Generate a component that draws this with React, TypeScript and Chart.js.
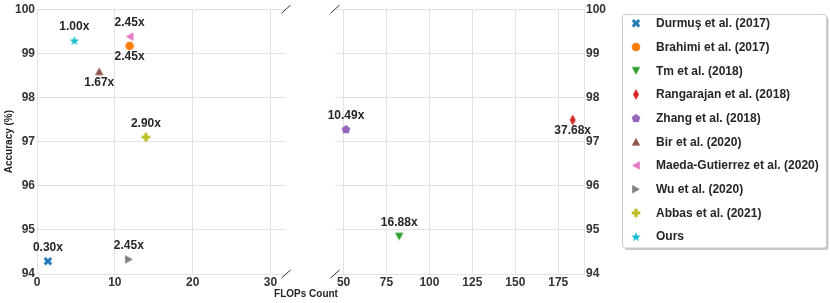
import React, { useEffect, useRef } from "react";
import { Chart, registerables } from "chart.js";

Chart.register(...registerables);

const methods = [
  "Durmuş et al. (2017)",
  "Brahimi et al. (2017)",
  "Tm et al. (2018)",
  "Rangarajan et al. (2018)",
  "Zhang et al. (2018)",
  "Bir et al. (2020)",
  "Maeda-Gutierrez et al. (2020)",
  "Wu et al. (2020)",
  "Abbas et al. (2021)",
  "Ours",
];
const flops = [1.4, 11.9, 82.4, 183.4, 51.4, 8.0, 11.9, 11.8, 14.0, 4.8];
const accuracy = [94.29, 99.17, 94.85, 97.49, 97.28, 98.59, 99.38, 94.33, 97.1, 99.29];
const speedLabels = ["0.30x", "2.45x", "16.88x", "37.68x", "10.49x", "1.67x", "2.45x", "2.45x", "2.90x", "1.00x"];
const labelBelow = [false, true, false, true, false, true, false, false, false, false];
const colors = ["#1f77b4", "#ff7f0e", "#2ca02c", "#d62728", "#9467bd", "#8c564b", "#e377c2", "#7f7f7f", "#bcbd22", "#17becf"];
const markerShapes = ["X", "circle", "triDown", "thinDiamond", "pentagon", "triUp", "triLeft", "triRight", "plus", "star"];
const leftXTicks = [0, 10, 20, 30];
const rightXTicks = [50, 75, 100, 125, 150, 175];
const yTicks = [94, 95, 96, 97, 98, 99, 100];
const leftRange = [0, 32];
const rightRange = [45, 190];
const yRange = [94, 100];

const FONT = "'Liberation Sans', Arial, sans-serif";
const GRID = "#e3e3e3";
const TICK = "#333333";
const TEXT = "#262626";

function plusPts(a: number, e: number): number[][] {
  return [[-a, -e], [a, -e], [a, -a], [e, -a], [e, a], [a, a], [a, e], [-a, e], [-a, a], [-e, a], [-e, -a], [-a, -a]];
}

function makeMarker(shape: string, color: string): HTMLCanvasElement {
  const s = 16;
  const c = document.createElement("canvas");
  c.width = s;
  c.height = s;
  const ctx = c.getContext("2d")!;
  ctx.fillStyle = color;
  ctx.translate(s / 2, s / 2);
  const poly = (pts: number[][]) => {
    ctx.beginPath();
    pts.forEach((p, i) => (i === 0 ? ctx.moveTo(p[0], p[1]) : ctx.lineTo(p[0], p[1])));
    ctx.closePath();
    ctx.fill();
  };
  switch (shape) {
    case "circle":
      ctx.beginPath();
      ctx.arc(0, 0, 4.3, 0, Math.PI * 2);
      ctx.fill();
      break;
    case "X": {
      const r = Math.PI / 4;
      poly(plusPts(1.5, 4.6).map(([x, y]) => [x * Math.cos(r) - y * Math.sin(r), x * Math.sin(r) + y * Math.cos(r)]));
      break;
    }
    case "plus":
      poly(plusPts(1.6, 4.3));
      break;
    case "triUp":
      poly([[0, -4], [4.2, 3.8], [-4.2, 3.8]]);
      break;
    case "triDown":
      poly([[0, 4], [4.2, -3.8], [-4.2, -3.8]]);
      break;
    case "triLeft":
      poly([[-4, 0], [3.8, -4.2], [3.8, 4.2]]);
      break;
    case "triRight":
      poly([[4, 0], [-3.8, -4.2], [-3.8, 4.2]]);
      break;
    case "thinDiamond":
      poly([[0, -5.5], [3, 0], [0, 5.5], [-3, 0]]);
      break;
    case "pentagon": {
      const pts: number[][] = [];
      for (let k = 0; k < 5; k++) {
        const a = -Math.PI / 2 + (k * 2 * Math.PI) / 5;
        pts.push([4.6 * Math.cos(a), 4.6 * Math.sin(a) + 0.4]);
      }
      poly(pts);
      break;
    }
    case "star": {
      const pts: number[][] = [];
      for (let k = 0; k < 10; k++) {
        const a = -Math.PI / 2 + (k * Math.PI) / 5;
        const rr = k % 2 === 0 ? 5 : 2.1;
        pts.push([rr * Math.cos(a), rr * Math.sin(a) + 0.5]);
      }
      poly(pts);
      break;
    }
  }
  return c;
}

function tickFont() {
  return { family: FONT, size: 12, weight: "bold" as const };
}

function buildDatasets(markers: HTMLCanvasElement[], inRange: (x: number) => boolean) {
  return methods.map((m, i) => ({
    label: m,
    data: inRange(flops[i]) ? [{ x: flops[i], y: accuracy[i] }] : [],
    pointStyle: markers[i],
    pointRadius: 5,
    backgroundColor: colors[i],
    borderColor: colors[i],
  }));
}

const labelPlugin = {
  id: "speedLabels",
  afterDatasetsDraw(chart: any) {
    const ctx = chart.ctx;
    ctx.save();
    ctx.font = `bold 12px ${FONT}`;
    ctx.fillStyle = TEXT;
    ctx.textAlign = "center";
    ctx.textBaseline = "middle";
    chart.data.datasets.forEach((ds: any, i: number) => {
      const meta = chart.getDatasetMeta(i);
      if (!ds.data.length || !meta.data[0]) return;
      const p = meta.data[0];
      const dy = labelBelow[i] ? 11 : -13.5;
      ctx.fillText(speedLabels[i], p.x, p.y + dy);
    });
    ctx.restore();
  },
};

function breakMark(ctx: CanvasRenderingContext2D, x: number, y: number) {
  ctx.beginPath();
  ctx.moveTo(x - 4.5, y + 4);
  ctx.lineTo(x + 4.5, y - 4);
  ctx.stroke();
}

export default function App() {
  const leftRef = useRef<HTMLCanvasElement>(null);
  const rightRef = useRef<HTMLCanvasElement>(null);

  useEffect(() => {
    const markers = markerShapes.map((s, i) => makeMarker(s, colors[i]));

    const leftDeco = {
      id: "leftDeco",
      afterDraw(chart: any) {
        const ctx = chart.ctx;
        const a = chart.chartArea;
        ctx.save();
        ctx.strokeStyle = "#333";
        ctx.lineWidth = 1;
        breakMark(ctx, a.right, a.top);
        breakMark(ctx, a.right, a.bottom);
        ctx.translate(9, (a.top + a.bottom) / 2);
        ctx.rotate(-Math.PI / 2);
        ctx.font = `bold 10px ${FONT}`;
        ctx.fillStyle = TEXT;
        ctx.textAlign = "center";
        ctx.textBaseline = "middle";
        ctx.fillText("Accuracy (%)", 0, 0);
        ctx.restore();
      },
    };

    const rightDeco = {
      id: "rightDeco",
      afterDraw(chart: any) {
        const ctx = chart.ctx;
        const a = chart.chartArea;
        ctx.save();
        ctx.strokeStyle = "#333";
        ctx.lineWidth = 1;
        breakMark(ctx, a.left, a.top);
        breakMark(ctx, a.left, a.bottom);
        // x title
        ctx.font = `bold 10px ${FONT}`;
        ctx.fillStyle = TEXT;
        ctx.textAlign = "center";
        ctx.textBaseline = "middle";
        ctx.fillText("FLOPs Count", 306 - 270, 294);
        // legend
        const bx = 622.5 - 270, by = 14.5, bw = 204, bh = 233.5, r = 3;
        const rr = (x: number, y: number) => {
          ctx.beginPath();
          ctx.moveTo(x + r, y);
          ctx.lineTo(x + bw - r, y);
          ctx.arcTo(x + bw, y, x + bw, y + r, r);
          ctx.lineTo(x + bw, y + bh - r);
          ctx.arcTo(x + bw, y + bh, x + bw - r, y + bh, r);
          ctx.lineTo(x + r, y + bh);
          ctx.arcTo(x, y + bh, x, y + bh - r, r);
          ctx.lineTo(x, y + r);
          ctx.arcTo(x, y, x + r, y, r);
          ctx.closePath();
        };
        rr(bx + 2, by + 2);
        ctx.fillStyle = "rgba(0,0,0,0.22)";
        ctx.fill();
        rr(bx, by);
        ctx.fillStyle = "#ffffff";
        ctx.fill();
        ctx.strokeStyle = "#cccccc";
        ctx.stroke();
        ctx.font = `bold 12px ${FONT}`;
        ctx.fillStyle = TEXT;
        ctx.textAlign = "left";
        ctx.textBaseline = "middle";
        methods.forEach((m, i) => {
          const cy = 23.3 + i * 23.7;
          const mk = markers[i];
          ctx.drawImage(mk, 636 - 270 - mk.width / 2, cy - mk.height / 2);
          ctx.fillText(m, 656 - 270, cy + 0.5);
        });
        ctx.restore();
      },
    };

    const yAxisBase = {
      type: "linear" as const,
      min: yRange[0],
      max: yRange[1],
      afterBuildTicks: (s: any) => {
        s.ticks = yTicks.map((v) => ({ value: v }));
      },
      grid: { color: GRID, drawTicks: false, lineWidth: 1 },
      border: { display: true, color: GRID },
      ticks: { padding: 2, color: TICK, font: tickFont() },
    };

    const left = new Chart(leftRef.current!, {
      type: "scatter",
      data: { datasets: buildDatasets(markers, (x) => x <= leftRange[1]) as any },
      options: {
        animation: false,
        responsive: false,
        devicePixelRatio: 1,
        layout: { padding: { left: 0, right: 14, top: 7, bottom: 0 }, autoPadding: false } as any,
        plugins: { legend: { display: false }, tooltip: { enabled: false } },
        scales: {
          x: {
            type: "linear",
            min: leftRange[0],
            max: leftRange[1],
            afterBuildTicks: (s: any) => {
              s.ticks = leftXTicks.map((v) => ({ value: v }));
            },
            afterFit: (s: any) => {
              s.height = 29;
            },
            grid: { color: GRID, drawTicks: false },
            border: { display: true, color: GRID },
            ticks: { padding: 1, color: TICK, font: tickFont(), maxRotation: 0 },
          },
          y: {
            ...yAxisBase,
            position: "left",
            afterFit: (s: any) => {
              s.width = 37;
            },
          },
        },
      } as any,
      plugins: [labelPlugin, leftDeco],
    });

    const right = new Chart(rightRef.current!, {
      type: "scatter",
      data: { datasets: buildDatasets(markers, (x) => x > leftRange[1]) as any },
      options: {
        animation: false,
        responsive: false,
        devicePixelRatio: 1,
        layout: { padding: { left: 65, right: 216, top: 7, bottom: 0 }, autoPadding: false } as any,
        plugins: { legend: { display: false }, tooltip: { enabled: false } },
        scales: {
          x: {
            type: "linear",
            min: rightRange[0],
            max: rightRange[1],
            afterBuildTicks: (s: any) => {
              s.ticks = rightXTicks.map((v) => ({ value: v }));
            },
            afterFit: (s: any) => {
              s.height = 29;
            },
            grid: { color: GRID, drawTicks: false },
            border: { display: false },
            ticks: { padding: 1, color: TICK, font: tickFont(), maxRotation: 0 },
          },
          y: {
            ...yAxisBase,
            position: "right",
            afterFit: (s: any) => {
              s.width = 30;
            },
          },
        },
      } as any,
      plugins: [labelPlugin, rightDeco],
    });

    return () => {
      left.destroy();
      right.destroy();
    };
  }, []);

  return (
    <div style={{ position: "absolute", left: 0, top: 0, width: 830, height: 303, background: "#fff" }}>
      <canvas
        ref={leftRef}
        width={300}
        height={303}
        style={{ position: "absolute", left: 0, top: 0, width: 300, height: 303 }}
      />
      <canvas
        ref={rightRef}
        width={560}
        height={303}
        style={{ position: "absolute", left: 270, top: 0, width: 560, height: 303 }}
      />
    </div>
  );
}
